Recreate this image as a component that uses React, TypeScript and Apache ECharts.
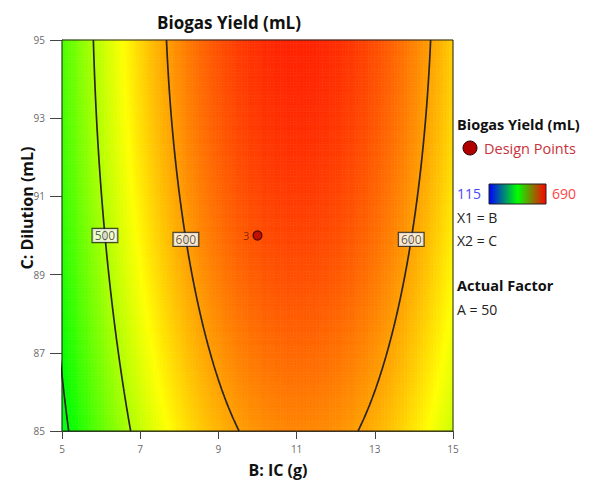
import React, { useEffect, useRef } from 'react';
import * as echarts from 'echarts';

// ---- Factor ranges (actual units) ----
const B_RANGE = [5, 15]; // B: IC (g)
const C_RANGE = [85, 95]; // C: Dilution (mL)
const B_CENTER = 10;
const C_CENTER = 90;
const HALF_SPAN = 5;

// ---- Fitted quadratic model in coded units (A held at 50) ----
const modelTerms = ['Intercept', 'B', 'C', 'BC', 'B²', 'C²'];
const modelCoefs = [645.2, 65.1, 28.2, 0, -155, -9.5];

// ---- Colour scale ----
const yieldRange = [115, 690];
const colorStops = ['#0000ff', '#00ffff', '#00ff00', '#ffff00', '#ff0000'];

// ---- Contours ----
const contourLevels = [400, 500, 600];
const contourLabels = [
  { level: 500, C: 90, side: 'left' },
  { level: 600, C: 89.9, side: 'left' },
  { level: 600, C: 89.9, side: 'right' },
];

// ---- Design points ----
const designB = [10];
const designC = [90];
const designCount = [3];

// ---- Legend texts ----
const legendTitle = 'Biogas Yield (mL)';
const legendLines = ['X1 = B', 'X2 = C'];
const actualFactor = 'A = 50';

const GRID_N = 120;
const FONT = "'Open Sans', 'Noto Sans', sans-serif";

function predict(B: number, C: number) {
  const x1 = (B - B_CENTER) / HALF_SPAN;
  const x2 = (C - C_CENTER) / HALF_SPAN;
  const [b0, b1, b2, b12, b11, b22] = modelCoefs;
  return b0 + b1 * x1 + b2 * x2 + b12 * x1 * x2 + b11 * x1 * x1 + b22 * x2 * x2;
}

function solveB(level: number, C: number, side: string): number | null {
  const x2 = (C - C_CENTER) / HALF_SPAN;
  const [b0, b1, b2, b12, b11, b22] = modelCoefs;
  const a = b11;
  const b = b1 + b12 * x2;
  const c = b0 + b2 * x2 + b22 * x2 * x2 - level;
  const disc = b * b - 4 * a * c;
  if (disc < 0) return null;
  const r1 = (-b - Math.sqrt(disc)) / (2 * a);
  const r2 = (-b + Math.sqrt(disc)) / (2 * a);
  const lo = Math.min(r1, r2);
  const hi = Math.max(r1, r2);
  const x1 = side === 'left' ? lo : hi;
  return B_CENTER + HALF_SPAN * x1;
}

export default function App() {
  const ref = useRef<HTMLDivElement>(null);

  useEffect(() => {
    if (!ref.current) return;
    const chart = echarts.init(ref.current, undefined, { renderer: 'svg' });

    const dB = (B_RANGE[1] - B_RANGE[0]) / GRID_N;
    const dC = (C_RANGE[1] - C_RANGE[0]) / GRID_N;
    const cells: number[][] = [];
    for (let i = 0; i < GRID_N; i++) {
      for (let j = 0; j < GRID_N; j++) {
        const B = B_RANGE[0] + (i + 0.5) * dB;
        const C = C_RANGE[0] + (j + 0.5) * dC;
        cells.push([B, C, predict(B, C)]);
      }
    }

    const contourSeries: any[] = [];
    contourLevels.forEach((lv) => {
      ['left', 'right'].forEach((side) => {
        const pts: number[][] = [];
        for (let k = 0; k <= 200; k++) {
          const C = C_RANGE[0] + (k * (C_RANGE[1] - C_RANGE[0])) / 200;
          const B = solveB(lv, C, side);
          if (B !== null && B >= B_RANGE[0] - 1 && B <= B_RANGE[1] + 1) pts.push([B, C]);
        }
        if (pts.length > 1 && pts.some((p) => p[0] >= B_RANGE[0] && p[0] <= B_RANGE[1])) {
          contourSeries.push({
            type: 'line',
            data: pts,
            showSymbol: false,
            symbol: 'none',
            clip: true,
            silent: true,
            z: 3,
            lineStyle: { color: '#2a261e', width: 1.7 },
          });
        }
      });
    });

    const labelData = contourLabels
      .map((l) => {
        const B = solveB(l.level, l.C, l.side);
        return B === null ? null : [B, l.C, String(l.level)];
      })
      .filter(Boolean);

    const designData = designB.map((b, i) => [b, designC[i], designCount[i]]);

    const option: any = {
      animation: false,
      grid: { left: 62, top: 40, width: 391, height: 391, containLabel: false },
      xAxis: {
        type: 'value',
        min: B_RANGE[0],
        max: B_RANGE[1],
        interval: 2,
        axisLine: { show: true, lineStyle: { color: '#222', width: 1 } },
        axisTick: { show: true, length: 8, lineStyle: { color: '#444' } },
        axisLabel: { color: '#6a6a6a', fontSize: 10, margin: 13, fontFamily: FONT },
        splitLine: { show: false },
      },
      yAxis: {
        type: 'value',
        min: C_RANGE[0],
        max: C_RANGE[1],
        interval: 2,
        axisLine: { show: true, lineStyle: { color: '#222', width: 1 } },
        axisTick: { show: true, length: 12, lineStyle: { color: '#444' } },
        axisLabel: { color: '#6a6a6a', fontSize: 10, margin: 17, fontFamily: FONT },
        splitLine: { show: false },
      },
      visualMap: {
        type: 'continuous',
        show: false,
        min: yieldRange[0],
        max: yieldRange[1],
        dimension: 2,
        seriesIndex: 0,
        inRange: { color: colorStops },
      },
      series: [
        {
          type: 'custom',
          data: cells,
          encode: { x: 0, y: 1 },
          silent: true,
          z: 1,
          progressive: 0,
          renderItem: (params: any, api: any) => {
            const B = api.value(0);
            const C = api.value(1);
            const p0 = api.coord([B - dB / 2, C + dC / 2]);
            const p1 = api.coord([B + dB / 2, C - dC / 2]);
            const color = api.visual('color');
            return {
              type: 'rect',
              shape: { x: p0[0], y: p0[1], width: p1[0] - p0[0], height: p1[1] - p0[1] },
              style: { fill: color, stroke: color, lineWidth: 0.6 },
            };
          },
        },
        ...contourSeries,
        {
          type: 'scatter',
          data: labelData,
          symbolSize: 1,
          silent: true,
          z: 5,
          itemStyle: { color: 'rgba(0,0,0,0)' },
          label: {
            show: true,
            position: 'inside',
            formatter: (p: any) => p.data[2],
            backgroundColor: '#ffffff',
            borderColor: '#222',
            borderWidth: 1.2,
            padding: [1, 2, 0, 2],
            color: '#333',
            fontSize: 12,
            fontFamily: FONT,
          },
        },
        {
          type: 'scatter',
          data: designData,
          symbol: 'circle',
          symbolSize: 9,
          silent: true,
          z: 6,
          itemStyle: { color: '#b00000', borderColor: '#2a0000', borderWidth: 1.2 },
          label: {
            show: true,
            position: 'left',
            distance: 3,
            formatter: (p: any) => String(p.data[2]),
            color: '#6e1a00',
            fontSize: 11,
            fontFamily: FONT,
          },
        },
      ],
      graphic: [
        {
          type: 'rect',
          z: 10,
          silent: true,
          shape: { x: 62, y: 40, width: 391, height: 391 },
          style: { fill: 'none', stroke: '#222', lineWidth: 1 },
        },
        {
          type: 'text',
          x: 229,
          y: 22,
          style: {
            text: 'Biogas Yield (mL)',
            font: `bold 17px ${FONT}`,
            fill: '#111',
            align: 'center',
            verticalAlign: 'middle',
          },
        },
        {
          type: 'text',
          x: 278,
          y: 470,
          style: {
            text: 'B: IC (g)',
            font: `bold 16px ${FONT}`,
            fill: '#111',
            align: 'center',
            verticalAlign: 'middle',
          },
        },
        {
          type: 'text',
          x: 27,
          y: 208,
          rotation: Math.PI / 2,
          style: {
            text: 'C: Dilution (mL)',
            font: `bold 16px ${FONT}`,
            fill: '#111',
            align: 'center',
            verticalAlign: 'middle',
          },
        },
        {
          type: 'text',
          x: 457,
          y: 124,
          style: { text: legendTitle, font: `bold 14.5px ${FONT}`, fill: '#111', verticalAlign: 'middle' },
        },
        {
          type: 'circle',
          shape: { cx: 470, cy: 148, r: 7 },
          style: { fill: '#b00000', stroke: '#2a0000', lineWidth: 1 },
        },
        {
          type: 'text',
          x: 484,
          y: 148,
          style: { text: 'Design Points', font: `14.5px ${FONT}`, fill: '#c8323c', verticalAlign: 'middle' },
        },
        {
          type: 'text',
          x: 457,
          y: 193,
          style: { text: String(yieldRange[0]), font: `14px ${FONT}`, fill: '#4646ff', verticalAlign: 'middle' },
        },
        {
          type: 'rect',
          shape: { x: 489, y: 184, width: 57, height: 20 },
          style: {
            fill: new echarts.graphic.LinearGradient(0, 0, 1, 0, [
              { offset: 0, color: '#0000ff' },
              { offset: 0.5, color: '#00ff00' },
              { offset: 1, color: '#ff0000' },
            ]),
            stroke: '#222',
            lineWidth: 1,
          },
        },
        {
          type: 'text',
          x: 552,
          y: 193,
          style: { text: String(yieldRange[1]), font: `14px ${FONT}`, fill: '#ff4646', verticalAlign: 'middle' },
        },
        {
          type: 'text',
          x: 457,
          y: 217,
          style: { text: legendLines[0], font: `14px ${FONT}`, fill: '#222', verticalAlign: 'middle' },
        },
        {
          type: 'text',
          x: 457,
          y: 240,
          style: { text: legendLines[1], font: `14px ${FONT}`, fill: '#222', verticalAlign: 'middle' },
        },
        {
          type: 'text',
          x: 457,
          y: 285,
          style: { text: 'Actual Factor', font: `bold 14.5px ${FONT}`, fill: '#111', verticalAlign: 'middle' },
        },
        {
          type: 'text',
          x: 457,
          y: 309,
          style: { text: actualFactor, font: `14px ${FONT}`, fill: '#222', verticalAlign: 'middle' },
        },
      ],
    };

    chart.setOption(option);
    return () => chart.dispose();
  }, []);

  return (
    <div
      ref={ref}
      style={{ position: 'fixed', left: 0, top: 0, width: 589, height: 480, background: '#fff' }}
    />
  );
}
